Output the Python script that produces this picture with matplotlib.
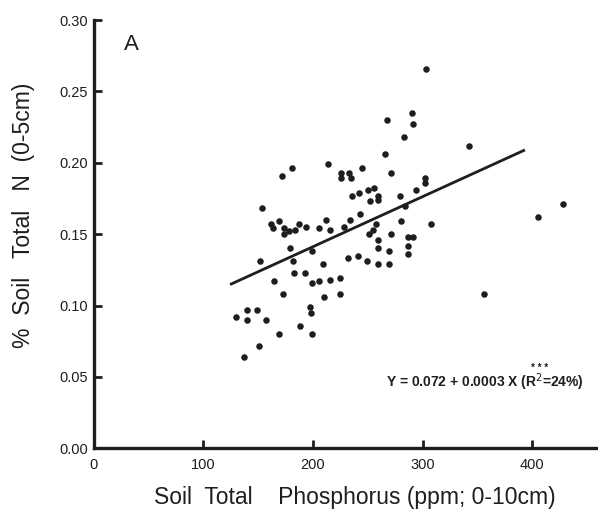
import matplotlib
matplotlib.use("Agg")
import matplotlib.pyplot as plt

# Fosforo total del suelo (ppm) vs N total (%)
soil_p = [137, 151, 130, 140, 157, 140, 149, 169, 199, 188,
          197, 198, 173, 210, 225, 165, 199, 206, 216, 225,
          183, 193, 152, 182, 179, 199, 209, 232, 241, 249,
          259, 269, 259, 259, 269, 271, 251, 255, 258, 228,
          234, 243, 212, 206, 216, 194, 187, 169, 162, 164,
          174, 174, 178, 184, 154, 172, 181, 214, 226, 233,
          226, 235, 245, 236, 242, 250, 256, 259, 259, 252,
          279, 271, 266, 268, 290, 291, 283, 303, 302, 302,
          294, 284, 280, 308, 287, 291, 287, 287, 342, 356,
          405, 428]
soil_n = [0.064, 0.072, 0.092, 0.090, 0.090, 0.097, 0.097, 0.080, 0.080, 0.086,
          0.099, 0.095, 0.108, 0.106, 0.108, 0.117, 0.116, 0.117, 0.118, 0.119,
          0.123, 0.123, 0.131, 0.131, 0.140, 0.138, 0.129, 0.133, 0.135, 0.131,
          0.129, 0.129, 0.140, 0.146, 0.138, 0.150, 0.150, 0.153, 0.157, 0.155,
          0.160, 0.164, 0.160, 0.154, 0.153, 0.155, 0.157, 0.159, 0.157, 0.154,
          0.154, 0.150, 0.152, 0.153, 0.168, 0.191, 0.196, 0.199, 0.193, 0.193,
          0.189, 0.189, 0.196, 0.177, 0.179, 0.181, 0.182, 0.177, 0.174, 0.173,
          0.177, 0.193, 0.206, 0.230, 0.235, 0.227, 0.218, 0.266, 0.189, 0.186,
          0.181, 0.170, 0.159, 0.157, 0.148, 0.148, 0.142, 0.136, 0.212, 0.108,
          0.162, 0.171]

# recta de regresion (extremos)
fit_x = [124.5, 393.4]
fit_y = [0.1147, 0.2090]

x_ticks = [0, 100, 200, 300, 400]
y_ticks = [0.00, 0.05, 0.10, 0.15, 0.20, 0.25, 0.30]
y_labels = ["0.00", "0.05", "0.10", "0.15", "0.20", "0.25", "0.30"]

ink = "#1e1e1e"
plt.rcParams["font.family"] = ["Liberation Sans", "DejaVu Sans"]

fig = plt.figure(figsize=(5.98, 5.17), dpi=100)
ax = fig.add_axes([0.1564, 0.1329, 0.8436, 0.8284])

ax.scatter(soil_p, soil_n, s=22, color=ink, linewidths=0, zorder=3)
ax.plot(fit_x, fit_y, color=ink, lw=2.0, solid_capstyle="butt")

ax.set_xlim(0, 460)
ax.set_ylim(0, 0.30)
ax.spines["top"].set_visible(False)
ax.spines["right"].set_visible(False)
for sp in ["left", "bottom"]:
    ax.spines[sp].set_linewidth(2.4)
    ax.spines[sp].set_color(ink)

ax.set_xticks(x_ticks)
ax.set_yticks(y_ticks)
ax.set_yticklabels(y_labels)
ax.tick_params(direction="in", length=6, width=2, color=ink,
               labelsize=10.5, labelcolor=ink, pad=4)
ax.tick_params(axis="x", pad=7)

fig.text(0.040, 0.584, "%  Soil   Total   N  (0-5cm)", rotation=90,
         ha="center", va="center", fontsize=16.5, color=ink)
fig.text(0.594, 0.038, "Soil  Total    Phosphorus (ppm; 0-10cm)",
         ha="center", va="center", fontsize=16.5, color=ink)
ax.text(28, 0.283, "A", fontsize=16, color=ink, ha="left", va="center")

ax.text(357, 0.0465, r"Y = 0.072 + 0.0003 X (R$^{2}$=24%)",
        fontsize=10, fontweight="bold", color=ink, ha="center", va="center")
ax.text(407, 0.0565, "* * *", fontsize=7, fontweight="bold", color=ink,
        ha="center", va="center")

fig.savefig("out.png", dpi=100)
